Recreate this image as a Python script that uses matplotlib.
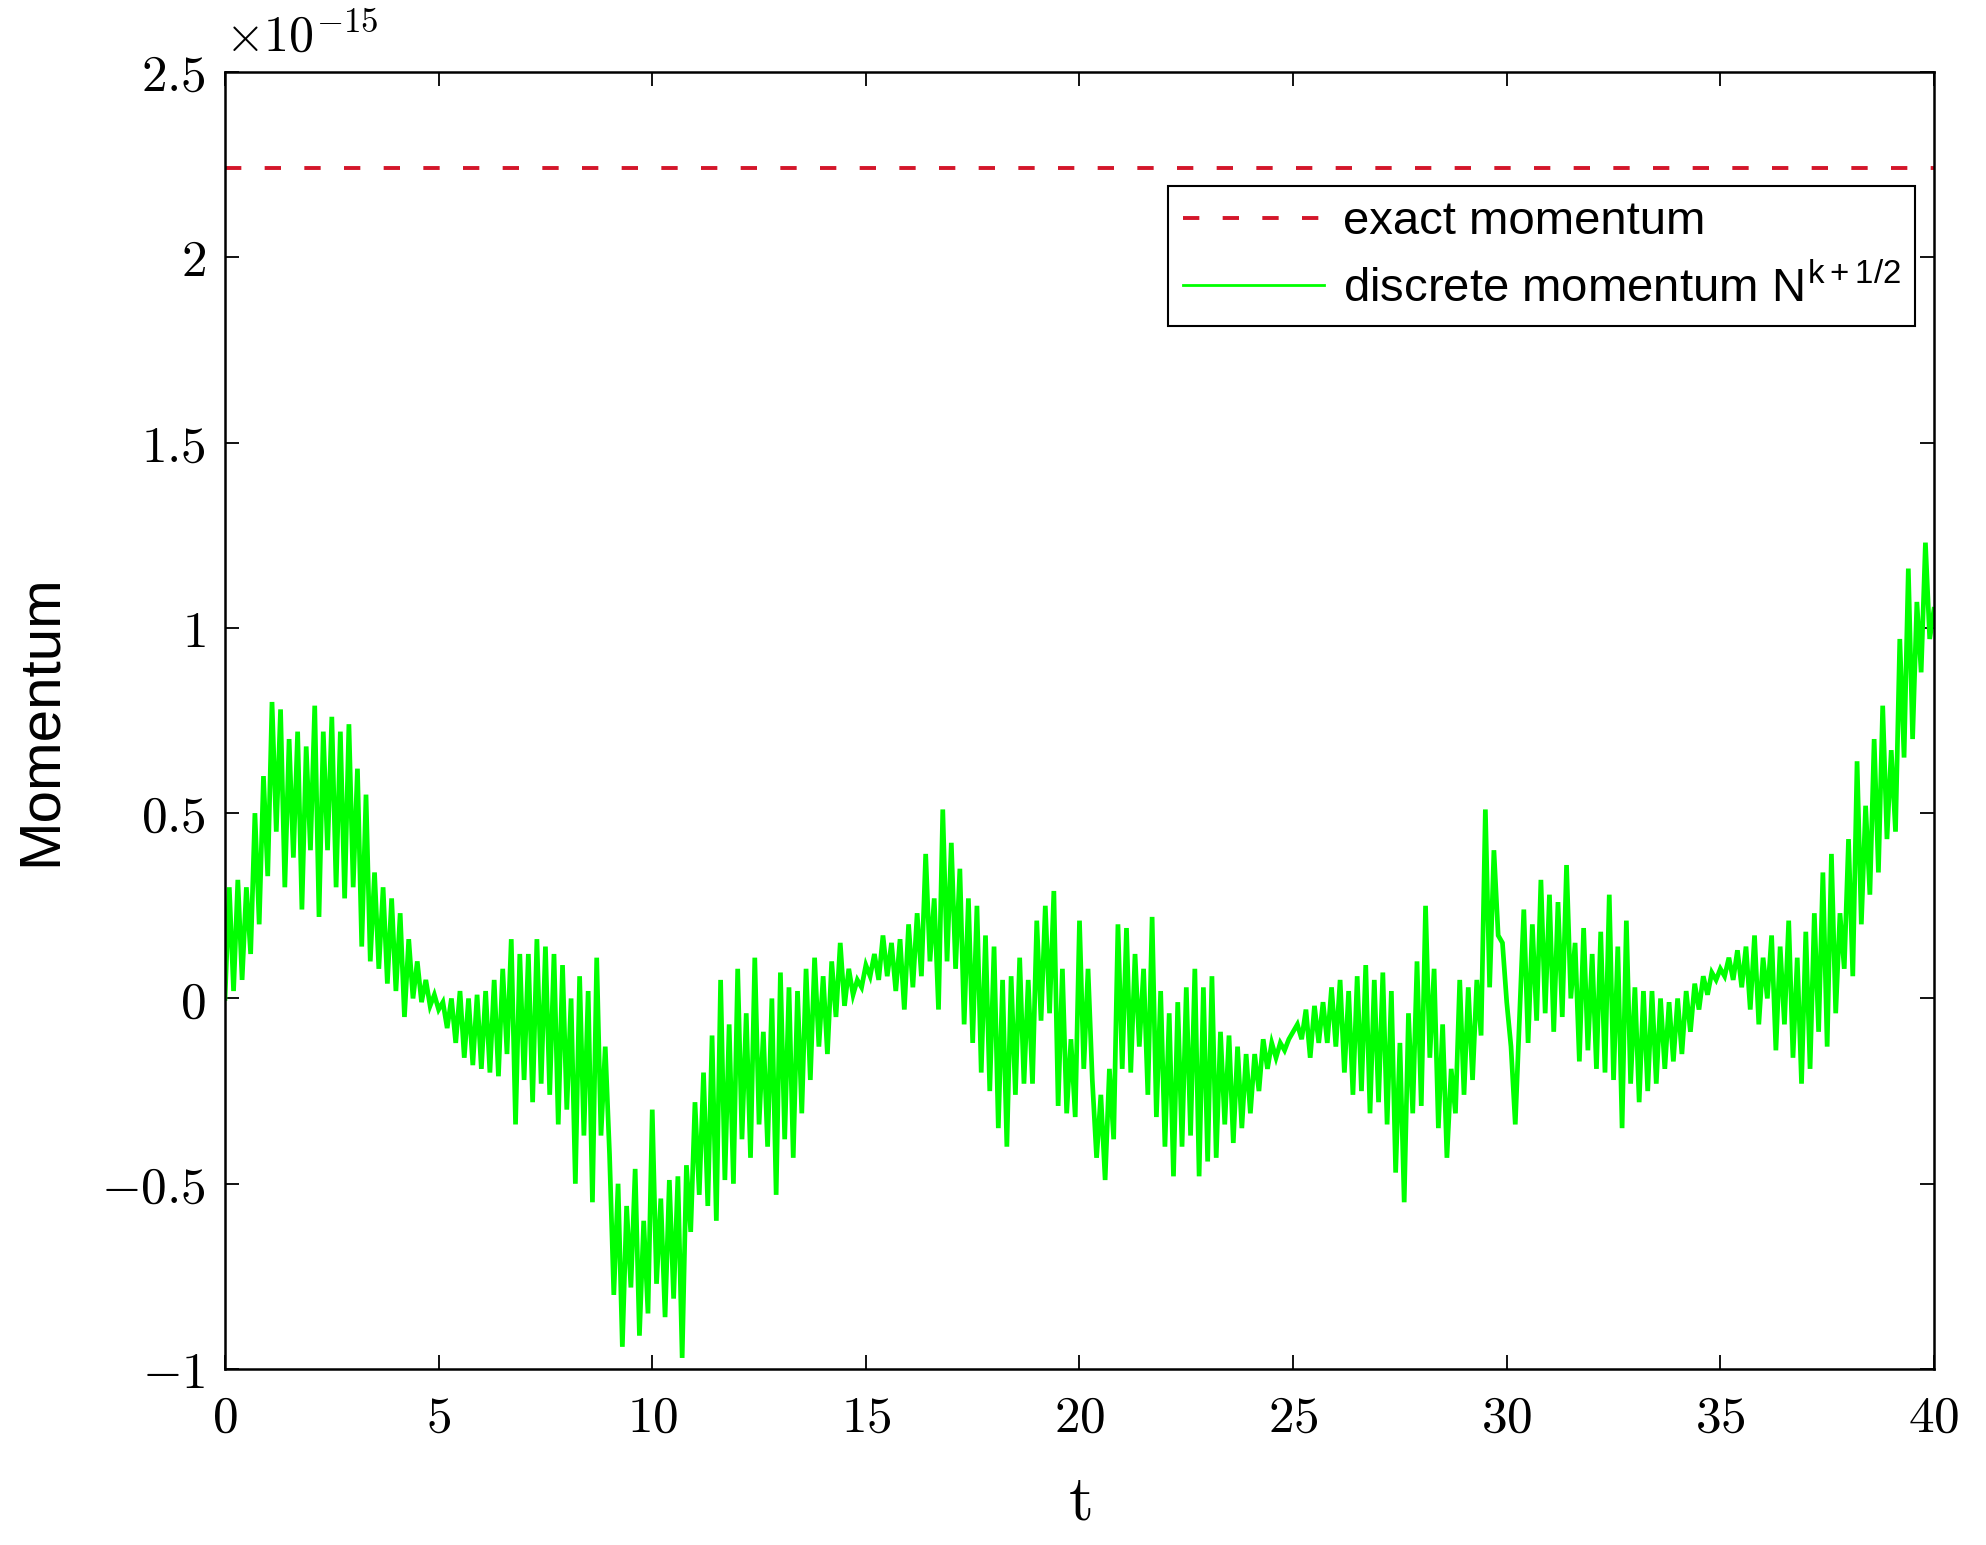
import numpy as np
import matplotlib
matplotlib.use("Agg")
from matplotlib import pyplot as plt
from matplotlib.ticker import FuncFormatter

plt.rcParams["font.family"] = ["Liberation Sans", "DejaVu Sans"]
plt.rcParams["mathtext.fontset"] = "cm"

# values, in units of 1e-15, one row per unit of t (step 0.1)
momentum = [
    0.00, 0.30, 0.02, 0.32, 0.05, 0.30, 0.12, 0.50, 0.20, 0.60,
    0.33, 0.80, 0.45, 0.78, 0.30, 0.70, 0.38, 0.72, 0.24, 0.68,
    0.40, 0.79, 0.22, 0.72, 0.40, 0.76, 0.30, 0.72, 0.27, 0.74,
    0.30, 0.62, 0.14, 0.55, 0.10, 0.34, 0.08, 0.30, 0.04, 0.27,
    0.02, 0.23, -0.05, 0.16, 0.00, 0.10, -0.01, 0.05, -0.02, 0.01,
    -0.03, -0.01, -0.08, 0.00, -0.12, 0.02, -0.16, 0.00, -0.18, 0.01,
    -0.19, 0.02, -0.20, 0.05, -0.21, 0.08, -0.15, 0.16, -0.34, 0.12,
    -0.22, 0.12, -0.28, 0.16, -0.23, 0.14, -0.26, 0.12, -0.34, 0.09,
    -0.30, 0.00, -0.50, 0.06, -0.37, 0.02, -0.55, 0.11, -0.37, -0.13,
    -0.42, -0.80, -0.50, -0.94, -0.56, -0.78, -0.46, -0.91, -0.60, -0.85,
    -0.30, -0.77, -0.54, -0.86, -0.49, -0.81, -0.48, -0.97, -0.45, -0.63,
    -0.28, -0.53, -0.20, -0.56, -0.10, -0.60, 0.05, -0.49, -0.07, -0.50,
    0.08, -0.38, -0.04, -0.43, 0.11, -0.34, -0.09, -0.40, 0.00, -0.53,
    0.07, -0.38, 0.03, -0.43, 0.02, -0.31, 0.08, -0.22, 0.11, -0.13,
    0.06, -0.15, 0.10, -0.05, 0.15, -0.02, 0.08, 0.01, 0.05, 0.03,
    0.09, 0.06, 0.12, 0.05, 0.17, 0.06, 0.15, 0.02, 0.16, -0.03,
    0.20, 0.03, 0.23, 0.06, 0.39, 0.10, 0.27, -0.03, 0.51, 0.10,
    0.42, 0.08, 0.35, -0.07, 0.27, -0.12, 0.25, -0.20, 0.17, -0.25,
    0.14, -0.35, 0.05, -0.40, 0.06, -0.26, 0.11, -0.23, 0.05, -0.23,
    0.21, -0.06, 0.25, -0.04, 0.29, -0.29, 0.08, -0.31, -0.11, -0.32,
    0.21, -0.19, 0.08, -0.22, -0.43, -0.26, -0.49, -0.19, -0.38, 0.20,
    -0.19, 0.19, -0.20, 0.12, -0.13, 0.08, -0.26, 0.22, -0.32, 0.02,
    -0.40, -0.04, -0.48, -0.01, -0.40, 0.03, -0.37, 0.08, -0.48, 0.03,
    -0.44, 0.06, -0.43, -0.09, -0.34, -0.10, -0.39, -0.13, -0.35, -0.15,
    -0.31, -0.15, -0.25, -0.11, -0.19, -0.12, -0.16, -0.12, -0.14, -0.11,
    -0.09, -0.07, -0.11, -0.03, -0.16, -0.02, -0.12, -0.01, -0.12, 0.03,
    -0.13, 0.05, -0.20, 0.02, -0.26, 0.06, -0.25, 0.09, -0.31, 0.05,
    -0.28, 0.07, -0.34, 0.02, -0.47, -0.12, -0.55, -0.04, -0.31, 0.10,
    -0.29, 0.25, -0.16, 0.08, -0.35, -0.07, -0.43, -0.19, -0.31, 0.05,
    -0.26, 0.03, -0.22, 0.05, -0.10, 0.51, 0.03, 0.40, 0.17, 0.15,
    -0.01, -0.13, -0.34, -0.05, 0.24, -0.12, 0.20, -0.06, 0.32, -0.04,
    0.28, -0.09, 0.26, -0.05, 0.36, 0.00, 0.15, -0.17, 0.19, -0.14,
    0.12, -0.19, 0.18, -0.20, 0.28, -0.22, 0.14, -0.35, 0.21, -0.23,
    0.03, -0.28, 0.02, -0.25, 0.02, -0.23, 0.00, -0.19, -0.01, -0.17,
    0.00, -0.15, 0.02, -0.09, 0.04, -0.03, 0.06, 0.01, 0.07, 0.05,
    0.08, 0.06, 0.11, 0.05, 0.13, 0.03, 0.14, -0.03, 0.17, -0.07,
    0.11, 0.00, 0.17, -0.14, 0.14, -0.07, 0.21, -0.16, 0.11, -0.23,
    0.18, -0.19, 0.23, -0.09, 0.34, -0.13, 0.39, -0.04, 0.23, 0.08,
    0.43, 0.06, 0.64, 0.20, 0.52, 0.28, 0.70, 0.34, 0.79, 0.43,
    0.67, 0.45, 0.97, 0.65, 1.16, 0.70, 1.07, 0.88, 1.23, 0.97,
    1.05,
]
exact_momentum = 2.24
scale = 1e-15
t_step = 0.1

x_ticks = [0, 5, 10, 15, 20, 25, 30, 35, 40]
y_ticks = [-1, -0.5, 0, 0.5, 1, 1.5, 2, 2.5]

t = np.arange(len(momentum)) * t_step
m = np.array(momentum) * scale

fig = plt.figure(figsize=(19.86, 15.45), dpi=100)
ax = fig.add_axes([0.1133, 0.1139, 0.8605, 0.8395])

ax.axhline(exact_momentum * scale, color="#d4162a", lw=2.8, dashes=(4.2, 6.0),
           label="exact momentum")
ax.plot(t, m, color="#00ff00", lw=3.4, solid_joinstyle="miter",
        label=r"discrete momentum N$^{\mathregular{k+1/2}}$")

ax.set_xlim(0, 40)
ax.set_ylim(-1 * scale, 2.5 * scale)
ax.set_xticks(x_ticks)
ax.set_yticks([v * scale for v in y_ticks])
ax.xaxis.set_major_formatter(FuncFormatter(lambda v, p: "$%g$" % v))
ax.yaxis.set_major_formatter(FuncFormatter(lambda v, p: "$%g$" % round(v / scale, 2)))
ax.tick_params(direction="in", top=True, right=True, length=10, width=1.3,
               labelsize=37)
ax.tick_params(axis="x", pad=18)
ax.tick_params(axis="y", pad=14)
for s in ax.spines.values():
    s.set_linewidth(1.8)

ax.text(0.0, 1.008, r"$\times 10^{-15}$", transform=ax.transAxes,
        fontsize=36, ha="left", va="bottom")

ax.set_ylabel("Momentum", fontsize=42)
ax.yaxis.set_label_coords(-0.092, 0.5)
ax.set_xlabel(r"$\mathrm{t}$", fontsize=46)
ax.xaxis.set_label_coords(0.5, -0.08)
ax.xaxis.label.set_va("top")

leg = ax.legend(loc="upper right", bbox_to_anchor=(0.989, 0.912), borderaxespad=0,
                fontsize=34, fancybox=False, framealpha=1, edgecolor="black",
                handlelength=3.0, borderpad=0.3, labelspacing=0.45, handletextpad=0.4)
leg.get_frame().set_linewidth(1.5)
leg.get_lines()[1].set_linewidth(2.0)

plt.savefig("out.png", dpi=100)
